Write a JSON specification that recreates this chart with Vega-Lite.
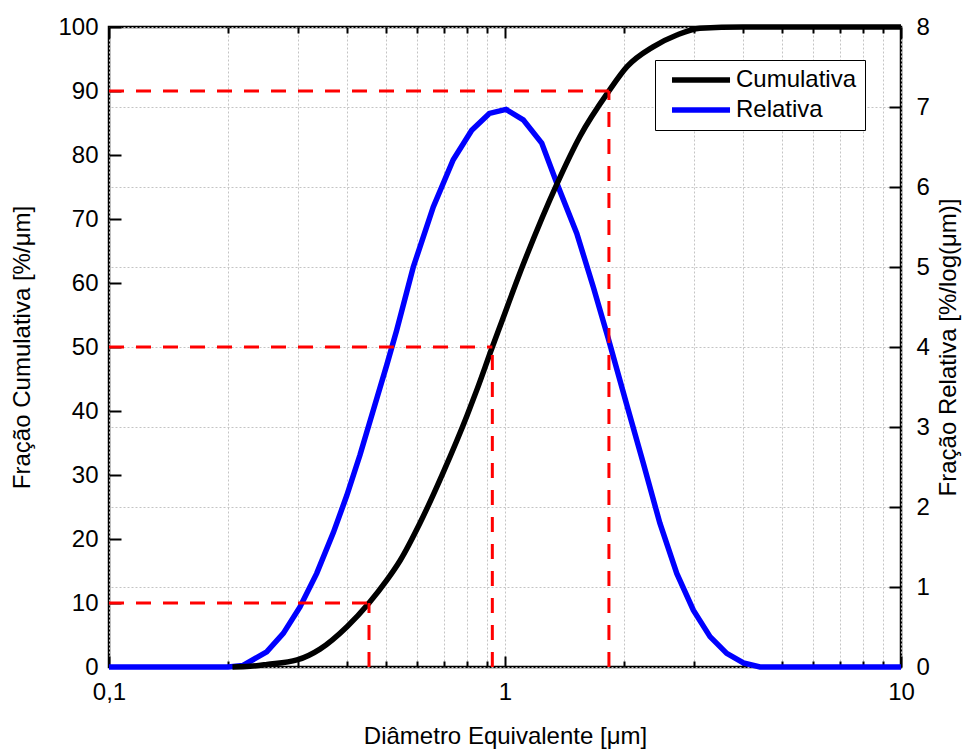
{
  "$schema": "https://vega.github.io/schema/vega-lite/v6.json",
  "width": 792,
  "height": 640,
  "autosize": "none",
  "padding": {"left": 109, "top": 27, "right": 65, "bottom": 83},
  "background": "white",
  "config": {
    "font": "Liberation Sans",
    "view": {"stroke": "black", "strokeWidth": 2.5},
    "axis": {
      "domain": false,
      "labelFontSize": 24,
      "titleFontSize": 24,
      "titleFontWeight": "normal",
      "labelColor": "black",
      "titleColor": "black",
      "tickColor": "black",
      "tickWidth": 2,
      "gridColor": "#c4c4c4",
      "gridDash": [2, 2],
      "gridWidth": 1,
      "labelFont": "Liberation Sans",
      "titleFont": "Liberation Sans"
    },
    "legend": {"labelFont": "Liberation Sans"}
  },
  "datasets": {
    "cum": [
      {"d": 0.205, "v": 0},
      {"d": 0.227, "v": 0.1},
      {"d": 0.2506, "v": 0.4},
      {"d": 0.2984, "v": 1.1},
      {"d": 0.341, "v": 2.8},
      {"d": 0.399, "v": 6.3},
      {"d": 0.4535, "v": 10},
      {"d": 0.5035, "v": 13.6},
      {"d": 0.543, "v": 16.6},
      {"d": 0.61, "v": 22.5},
      {"d": 0.697, "v": 30.3},
      {"d": 0.802, "v": 39.3},
      {"d": 0.849, "v": 43.3},
      {"d": 0.929, "v": 50},
      {"d": 0.971, "v": 53.2},
      {"d": 1.11, "v": 62.8},
      {"d": 1.353, "v": 75.5},
      {"d": 1.546, "v": 82.9},
      {"d": 1.83, "v": 90},
      {"d": 2.033, "v": 93.8},
      {"d": 2.366, "v": 96.9},
      {"d": 2.717, "v": 98.75},
      {"d": 3.106, "v": 99.8},
      {"d": 3.99, "v": 100},
      {"d": 10, "v": 100}
    ],
    "rel": [
      {"d": 0.1, "v": 0},
      {"d": 0.15, "v": 0},
      {"d": 0.2, "v": 0},
      {"d": 0.218, "v": 0.02},
      {"d": 0.2502, "v": 0.19},
      {"d": 0.2755, "v": 0.42},
      {"d": 0.3036, "v": 0.75},
      {"d": 0.3346, "v": 1.17},
      {"d": 0.3686, "v": 1.68},
      {"d": 0.3983, "v": 2.14},
      {"d": 0.4303, "v": 2.65},
      {"d": 0.4649, "v": 3.21},
      {"d": 0.5025, "v": 3.77},
      {"d": 0.5327, "v": 4.21},
      {"d": 0.5867, "v": 5.0},
      {"d": 0.659, "v": 5.75},
      {"d": 0.74, "v": 6.34},
      {"d": 0.824, "v": 6.71},
      {"d": 0.913, "v": 6.92},
      {"d": 1.006, "v": 6.97},
      {"d": 1.112, "v": 6.84},
      {"d": 1.238, "v": 6.55},
      {"d": 1.351, "v": 6.05},
      {"d": 1.518, "v": 5.42},
      {"d": 1.671, "v": 4.75},
      {"d": 1.82, "v": 4.12},
      {"d": 2.029, "v": 3.28},
      {"d": 2.234, "v": 2.55},
      {"d": 2.46, "v": 1.8},
      {"d": 2.715, "v": 1.17},
      {"d": 2.99, "v": 0.71},
      {"d": 3.294, "v": 0.38},
      {"d": 3.63, "v": 0.17},
      {"d": 4.0, "v": 0.05},
      {"d": 4.405, "v": 0},
      {"d": 10, "v": 0}
    ],
    "ref": [
      {"xa": 0.1, "xb": 0.4535, "ya": 10, "yb": 10},
      {"xa": 0.4535, "xb": 0.4535, "ya": 0, "yb": 10},
      {"xa": 0.1, "xb": 0.929, "ya": 50, "yb": 50},
      {"xa": 0.929, "xb": 0.929, "ya": 0, "yb": 50},
      {"xa": 0.1, "xb": 1.83, "ya": 90, "yb": 90},
      {"xa": 1.83, "xb": 1.83, "ya": 0, "yb": 90}
    ]
  },
  "layer": [
    {
      "data": {"name": "rel"},
      "mark": {"type": "line", "strokeWidth": 5.5, "interpolate": "linear"},
      "encoding": {
        "x": {
          "field": "d", "type": "quantitative",
          "scale": {"type": "log", "domain": [0.1, 10]},
          "axis": {
            "orient": "top",
            "values": [0.1, 0.2, 0.3, 0.4, 0.5, 0.6, 0.7, 0.8, 0.9, 1, 2, 3, 4, 5, 6, 7, 8, 9, 10],
            "labels": false,
            "grid": false,
            "title": null,
            "tickSize": {"condition": {"test": "datum.value == 0.1 || datum.value == 1 || datum.value == 10", "value": -11}, "value": -6}
          }
        },
        "y": {
          "field": "v", "type": "quantitative",
          "scale": {"domain": [0, 8]},
          "axis": {
            "orient": "right",
            "values": [0, 1, 2, 3, 4, 5, 6, 7, 8],
            "grid": true,
            "tickSize": -12,
            "labelPadding": 27,
            "title": "Fração Relativa [%/log(μm)]",
            "titleAngle": 270,
            "titleBaseline": "middle",
            "titleX": 47,
            "titleY": 320
          }
        },
        "color": {
          "datum": "Relativa", "type": "nominal",
          "scale": {"domain": ["Cumulativa", "Relativa"], "range": ["#000000", "#0000ff"]},
          "legend": {
            "orient": "none",
            "legendX": 546,
            "legendY": 33,
            "title": null,
            "strokeColor": "black",
            "fillColor": "white",
            "padding": 8,
            "labelFontSize": 24,
            "labelColor": "black",
            "symbolType": "M-0.5,0H9.17",
            "symbolSize": 144,
            "symbolStrokeWidth": 5.5,
            "labelOffset": 49,
            "rowPadding": 6
          }
        }
      }
    },
    {
      "layer": [
        {
          "data": {"name": "cum"},
          "mark": {"type": "line", "strokeWidth": 5.5, "interpolate": "monotone"},
          "encoding": {
            "x": {
              "field": "d", "type": "quantitative",
              "scale": {"type": "log", "domain": [0.1, 10]},
              "axis": {
                "orient": "bottom",
                "values": [0.1, 0.2, 0.3, 0.4, 0.5, 0.6, 0.7, 0.8, 0.9, 1, 2, 3, 4, 5, 6, 7, 8, 9, 10],
                "labelExpr": "datum.value == 0.1 ? '0,1' : datum.value == 1 ? '1' : datum.value == 10 ? '10' : ''",
                "labelFlush": false,
                "labelOverlap": false,
                "grid": true,
                "tickSize": {"condition": {"test": "datum.value == 0.1 || datum.value == 1 || datum.value == 10", "value": -11}, "value": -6},
                "labelPadding": 24,
                "title": "Diâmetro Equivalente [μm]",
                "titleBaseline": "alphabetic",
                "titleX": 396,
                "titleY": 76
              }
            },
            "y": {
              "field": "v", "type": "quantitative",
              "scale": {"domain": [0, 100]},
              "axis": {
                "orient": "left",
                "values": [0, 10, 20, 30, 40, 50, 60, 70, 80, 90, 100],
                "grid": false,
                "tickSize": -12,
                "labelPadding": 23,
                "title": "Fração Cumulativa [%/μm]",
                "titleAngle": 270,
                "titleBaseline": "middle",
                "titleX": -87,
                "titleY": 320
              }
            },
            "color": {"datum": "Cumulativa", "type": "nominal"}
          }
        },
        {
          "data": {"name": "ref"},
          "mark": {"type": "rule", "color": "#ff0000", "strokeWidth": 3, "strokeDash": [15, 12]},
          "encoding": {
            "x": {"field": "xa", "type": "quantitative"},
            "x2": {"field": "xb"},
            "y": {"field": "ya", "type": "quantitative"},
            "y2": {"field": "yb"}
          }
        }
      ]
    }
  ],
  "resolve": {"scale": {"y": "independent"}, "axis": {"x": "independent"}}
}
